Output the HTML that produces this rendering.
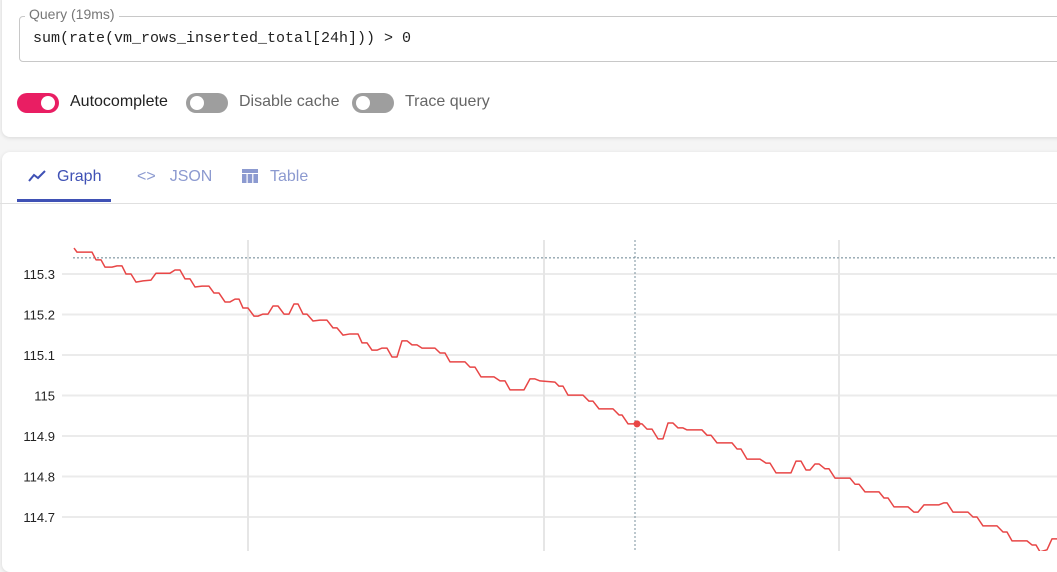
<!DOCTYPE html>
<html><head><meta charset="utf-8">
<style>
body{margin:0;width:1057px;height:551px;overflow:hidden;background:#f5f5f5;font-family:"Liberation Sans",sans-serif;}
.card{position:absolute;left:2px;right:-10px;background:#fff;border-radius:8px;box-shadow:0 1px 4px rgba(0,0,0,.12);}
.fieldset{position:absolute;left:17px;width:1060px;height:44px;border:1px solid #c8c8c8;border-radius:4px;}
.legend{position:absolute;left:25px;top:6px;background:#fff;padding:0 4px;font-size:14px;color:#777;}
.query{position:absolute;left:33px;top:30px;font-family:"Liberation Mono",monospace;font-size:15px;color:#222;}
.sw{position:absolute;top:93px;width:42px;height:20px;border-radius:10px;background:#9e9e9e;}
.sw .k{position:absolute;top:3px;left:4px;width:14px;height:14px;border-radius:50%;background:#fff;}
.sw.on{background:#e91e63}.sw.on .k{left:24px}
.lbl{position:absolute;top:93px;font-size:16px;color:#666;}
.tab{position:absolute;top:168px;font-size:16px;color:#8c9ad0;}
</style></head><body>
<div class="card" style="top:-10px;height:147px">
 <div class="fieldset" style="top:26px"></div>
</div>
<span class="legend">Query (19ms)</span>
<div class="query">sum(rate(vm_rows_inserted_total[24h])) &gt; 0</div>
<div class="sw on" style="left:17px"><div class="k"></div></div>
<span class="lbl" style="left:70px;color:#222">Autocomplete</span>
<div class="sw" style="left:186px"><div class="k"></div></div>
<span class="lbl" style="left:239px">Disable cache</span>
<div class="sw" style="left:352px"><div class="k"></div></div>
<span class="lbl" style="left:405px">Trace query</span>
<div class="card" style="top:152px;height:420px"></div>
<div style="position:absolute;left:0;right:0;top:203px;height:1px;background:#e0e0e0"></div>
<div style="position:absolute;left:17px;top:199px;width:94px;height:3px;background:#3f51b5"></div>
<span class="tab" style="left:28px;color:#3f51b5"><svg width="18" height="12" style="vertical-align:-1px;margin-right:11px"><polyline points="1,11 6,5 10,8 17,1" fill="none" stroke="#3f51b5" stroke-width="2"/></svg>Graph</span>
<span class="tab" style="left:137px"><span style="margin-right:14px">&lt;&gt;</span>JSON</span>
<span class="tab" style="left:242px"><svg width="16" height="14" style="vertical-align:-2px;margin-right:12px"><rect x="0" y="0" width="16" height="4" fill="#8c9ad0"/><rect x="0" y="5" width="4.5" height="9" fill="#8c9ad0"/><rect x="5.7" y="5" width="4.5" height="9" fill="#8c9ad0"/><rect x="11.4" y="5" width="4.6" height="9" fill="#8c9ad0"/></svg>Table</span>
<svg id="chart" style="position:absolute;left:0;top:0" width="1057" height="551"></svg>
<script>
const ts=[1,4,14,19,23,28,32,39,44,49,
53,58,63,70,78,83,97,102,107,112,
117,122,129,136,141,146,152,157,162,166,
170,175,181,185,190,195,200,205,211,216,
221,225,230,234,240,247,254,260,264,270,
277,285,289,294,299,304,309,314,319,324,
329,334,339,344,349,362,367,372,377,392,
397,402,408,421,427,432,437,451,457,462,
467,482,486,490,495,510,516,520,526,540,
546,549,555,569,574,579,585,590,595,600,
605,610,614,629,634,638,644,659,664,668,
674,687,693,697,703,718,723,728,733,737,
742,746,752,756,762,777,782,786,792,806,
811,815,821,835,841,845,851,866,871,874,
880,895,900,904,910,924,930,934,939,954,
959,963,967,974,979,984];
const vals=[115.364,115.354,115.354,115.354,115.335,115.335,115.317,115.317,115.320,115.320,
115.300,115.300,115.280,115.283,115.285,115.302,115.302,115.310,115.310,115.288,
115.288,115.268,115.270,115.270,115.253,115.253,115.231,115.231,115.238,115.238,
115.216,115.216,115.196,115.196,115.201,115.201,115.221,115.221,115.201,115.201,
115.226,115.226,115.201,115.201,115.184,115.186,115.186,115.167,115.167,115.149,
115.152,115.152,115.130,115.130,115.112,115.112,115.117,115.117,115.095,115.095,
115.135,115.135,115.125,115.125,115.117,115.117,115.105,115.105,115.083,115.083,
115.070,115.070,115.046,115.046,115.036,115.036,115.014,115.014,115.041,115.041,
115.036,115.033,115.023,115.023,115.001,115.001,114.986,114.986,114.967,114.967,
114.952,114.952,114.930,114.930,114.917,114.917,114.893,114.893,114.932,114.932,
114.920,114.920,114.915,114.915,114.902,114.902,114.883,114.883,114.868,114.868,
114.843,114.843,114.833,114.833,114.809,114.809,114.838,114.838,114.816,114.816,
114.831,114.831,114.819,114.819,114.796,114.796,114.781,114.781,114.762,114.762,
114.747,114.747,114.725,114.725,114.712,114.712,114.730,114.730,114.735,114.735,
114.712,114.712,114.700,114.700,114.678,114.678,114.663,114.663,114.641,114.641,
114.631,114.631,114.614,114.619,114.646,114.646];
const yTicks=[115.3,115.2,115.1,115,114.9,114.8,114.7];
const yTickLabels=["115.3","115.2","115.1","115","114.9","114.8","114.7"];
const xGrid=[175,471,766];
const hoverTime=564, hoverValue=114.930, hlineValue=115.340;
const svg=document.getElementById('chart'),NS='http://www.w3.org/2000/svg';
const X=t=>73+t, Y=v=>274+(115.3-v)*405;
function mk(tag,attrs){const e=document.createElementNS(NS,tag);for(const k in attrs)e.setAttribute(k,attrs[k]);svg.appendChild(e);return e;}
yTicks.forEach((v,i)=>{
 const g=mk('line',{x1:62,x2:1057,y1:Y(v),y2:Y(v),stroke:'#ebebeb','stroke-width':2});
 
 
 const t=mk('text',{x:55,y:Y(v)+5,'text-anchor':'end','font-size':13,fill:'#222','font-family':'Liberation Sans, sans-serif'});
 t.textContent=yTickLabels[i];
 
 
});
xGrid.forEach(t=>{
 const g=mk('line',{x1:X(t),x2:X(t),y1:240,y2:551,stroke:'#e6e6e6','stroke-width':2});
 
 
});
const hl=mk('line',{x1:73,x2:1057,y1:Y(hlineValue),y2:Y(hlineValue),stroke:'#90a4ae','stroke-width':1.3,'stroke-dasharray':'2,2'});


const vl=mk('line',{x1:X(hoverTime)-2,x2:X(hoverTime)-2,y1:240,y2:551,stroke:'#78909c','stroke-width':1,'stroke-dasharray':'2,2'});


const p=mk('polyline',{points:ts.map((t,i)=>X(t)+','+Y(vals[i])).join(' '),fill:'none',stroke:'#e84646','stroke-width':1.5,'stroke-linejoin':'round'});


const d=mk('circle',{cx:X(hoverTime),cy:Y(hoverValue),r:3.5,fill:'#e84646'});


</script>
</body></html>
